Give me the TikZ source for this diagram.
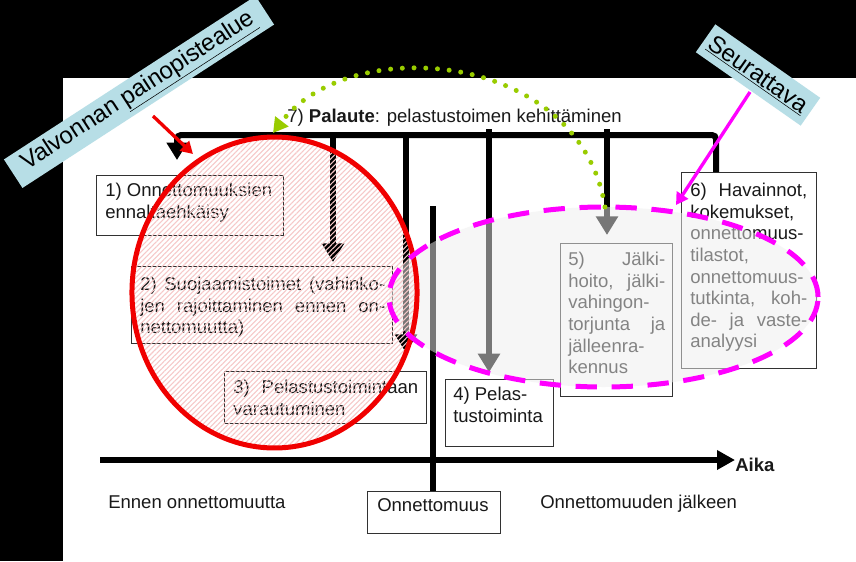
\documentclass[tikz,border=0pt]{standalone}
\usepackage{fontspec}
\setmainfont{Liberation Sans}
\usetikzlibrary{arrows.meta,patterns.meta}
\definecolor{lblue}{RGB}{183,222,230}
\definecolor{mag}{RGB}{255,0,255}
\definecolor{grn}{RGB}{153,204,0}
\definecolor{rd}{RGB}{240,0,0}
\definecolor{hatchc}{RGB}{246,200,200}
\definecolor{boxline}{RGB}{50,50,50}
\definecolor{veil}{RGB}{238,238,238}
\begin{document}
\begin{tikzpicture}[x=0.75pt,y=-0.75pt,
  box/.style={draw=boxline, line width=0.9pt, fill=white, anchor=north west, inner sep=0pt},
  txt/.style={anchor=north west, inner sep=0pt, align=left, text=black!90, font=\fontsize{13.9pt}{16.2pt}\selectfont},
  bar/.style={line width=4.5pt, black},
  varrow/.style={-{Triangle[length=14pt,width=16pt]}},
  lbl/.style={fill=lblue, inner sep=0pt, font=\fontsize{18pt}{21pt}\selectfont, minimum height=25.5pt},
  hl/.style={line width=2.5pt, -{Triangle[length=9pt,width=10pt]}}
]
% background
\fill[black] (0,0) rectangle (856,561);
\fill[white] (63,78) rectangle (856,561);
\useasboundingbox (0,0) rectangle (856,561);

% boxes
\node[box, minimum width=187*0.75pt, minimum height=60*0.75pt] (b1) at (96,175) {};
\node[box, minimum width=261*0.75pt, minimum height=77*0.75pt] (b2) at (131,266) {};
\node[box, minimum width=202*0.75pt, minimum height=52*0.75pt] (b3) at (224,371) {};
\node[box, minimum width=108*0.75pt, minimum height=67*0.75pt] (b4) at (445,379) {};
\node[box, minimum width=112*0.75pt, minimum height=153*0.75pt] (b5) at (560,243) {};
\node[box, minimum width=135*0.75pt, minimum height=196*0.75pt] (b6) at (681,172) {};
\node[box, minimum width=133*0.75pt, minimum height=42*0.75pt] (bO) at (367,491) {};

% texts in boxes
\node[txt] (t1) at (105,183) {1) Onnettomuuksien\\ennaltaehkäisy};
\node[txt, text width=245*0.75pt] (t2) at (140,277) {2)\hfill Suojaamistoimet\hfill (vahinko-\\jen\hfill rajoittaminen\hfill ennen\hfill on-\\nettomuutta)};
\node[txt, text width=185*0.75pt] (t3) at (233,380) {3)\hfill Pelastustoimintaan\\varautuminen};
\node[txt] (t4) at (453,387) {4) Pelas-\\tustoiminta};
\node[txt, text width=97*0.75pt] (t5) at (568,252) {5)\hfill Jälki-\\hoito,\hfill jälki-\\vahingon-\\torjunta\hfill ja\\jälleenra-\\kennus};
\node[txt, text width=117*0.75pt] (t6) at (690,183) {6)\hfill Havainnot,\\kokemukset,\\onnettomuus-\\tilastot,\\onnettomuus-\\tutkinta,\hfill koh-\\de-\hfill ja\hfill vaste-\\analyysi};
\node[txt] (tO) at (377,498) {Onnettomuus};

% free texts
\node[txt] (t7) at (287,109) {7) \textbf{Palaute}: pelastustoimen kehittäminen};
\node[txt] (before) at (108,495) {Ennen onnettomuutta};
\node[txt] (after) at (540,495) {Onnettomuuden jälkeen};

% feedback loop
\coordinate (tl) at (177,135);
\coordinate (tr) at (716,135);
\coordinate (lend) at (177,160);
\draw[bar, rounded corners=3pt, -{Triangle[length=13pt,width=15pt]}] (tr |- b6.north) -- (tr) -- (tl) -- (lend);
\coordinate (aA) at (333,135);
\coordinate (aB) at (406,135);
\coordinate (aD) at (489,129);
\coordinate (aE) at (607,129);
\coordinate (aC) at (433,206);
\draw[bar, varrow, shorten >=3pt] (aA) -- (aA |- b2.north);
\draw[bar, varrow, shorten >=13.5pt] (aB) -- (aB |- b3.north);
\draw[bar, varrow, shorten >=5pt] (aD) -- (aD |- b4.north);
\draw[bar, varrow, shorten >=6pt] (aE) -- (aE |- b5.north);
\draw[bar] (aC) -- (aC |- bO.north);

% time axis
\coordinate (ax0) at (100,460);
\coordinate (ax1) at (735,460);
\draw[line width=5pt, -{Triangle[length=13.5pt,width=14pt]}] (ax0) -- (ax1);
\node[txt, font=\bfseries\fontsize{13.9pt}{16.2pt}\selectfont] (aika) at (735,458) {Aika};

% magenta veil
\fill[veil, fill opacity=0.5] (603.5,297) ellipse [x radius=160.9pt, y radius=67.5pt];

% red focus ellipse
\draw[rd, line width=3.75pt, pattern={Lines[angle=45,distance=2.7pt,line width=0.8pt]}, pattern color=hatchc] (274.5,292.5) ellipse [x radius=106.9pt, y radius=116.6pt];

% magenta dashed ellipse
\draw[mag, line width=3.75pt, dash pattern=on 16pt off 11pt] (603.5,297) ellipse [x radius=160.9pt, y radius=67.5pt];

% labels
\node[lbl, rotate=33, minimum width=225pt] (valv) at (139,92) {Valvonnan \underline{painopistealue}};
\node[lbl, rotate=-35, minimum width=96pt] (seur) at (758,75) {\underline{Seurattava}};

% pointer arrows
\coordinate (rs) at (153,116);
\coordinate (re) at (193,154);
\draw[rd, hl] (rs) -- (re);
\coordinate (ms) at (750,92);
\coordinate (me) at (676,205);
\draw[mag, hl] (ms) -- (me);

% green dotted feedback
\coordinate (gs) at (605,207);
\coordinate (ge) at (273,133);
\draw[grn, line width=3.75pt, line cap=round, dash pattern=on 0pt off 8.8pt, -{Triangle[length=11pt,width=12pt]}] (gs) .. controls (580,50) and (350,32) .. (ge);
\end{tikzpicture}
\end{document}
